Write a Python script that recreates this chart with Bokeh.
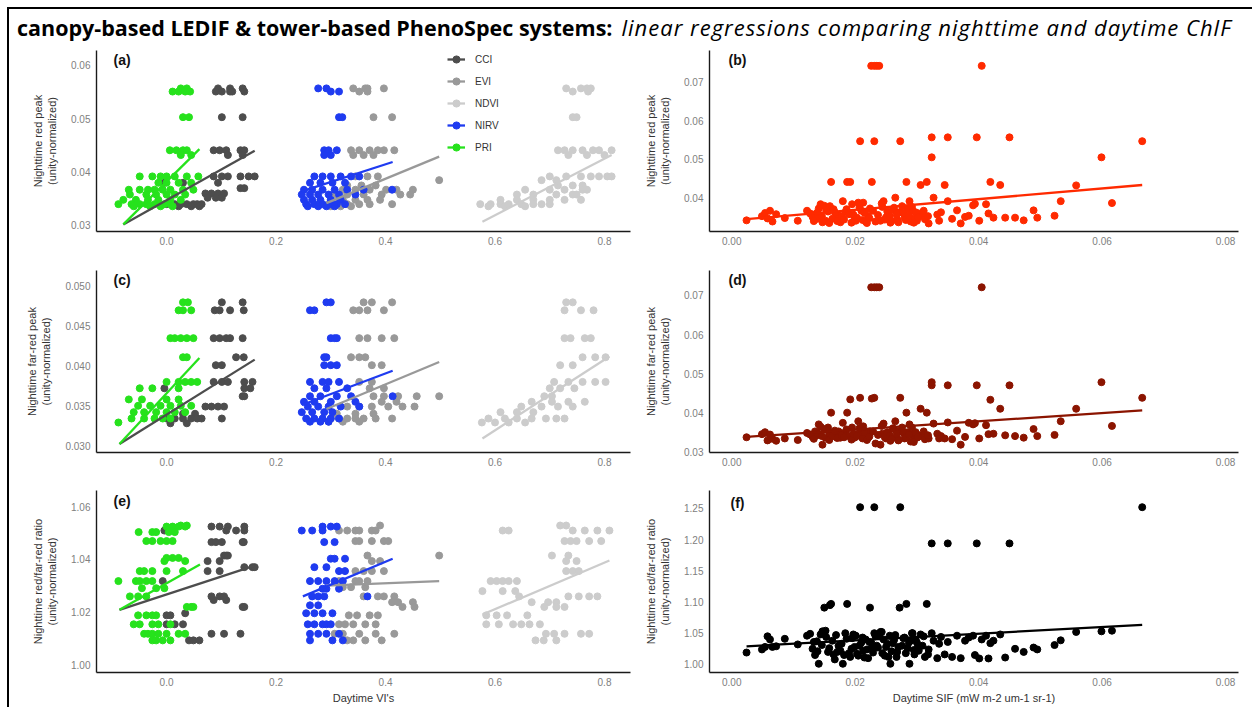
from bokeh.plotting import figure
from bokeh.layouts import column, row
from bokeh.models import Div, FixedTicker, Label, Legend, LegendItem, Range1d, PrintfTickFormatter
from bokeh.embed import file_html
from bokeh.resources import INLINE

# ---------------- data ----------------
vi_names = ["CCI", "EVI", "NDVI", "NIRV", "PRI"]
vi_colors = ["#4D4D4D", "#999999", "#CCCCCC", "#1F3BF0", "#26E21C"]

vi_xticks = [0.0, 0.2, 0.4, 0.6, 0.8]
sif_xticks = [0.0, 0.02, 0.04, 0.06, 0.08]
a_yticks = [0.03, 0.04, 0.05, 0.06]
b_yticks = [0.04, 0.05, 0.06, 0.07]
c_yticks = [0.030, 0.035, 0.040, 0.045, 0.050]
d_yticks = [0.03, 0.04, 0.05, 0.06, 0.07]
e_yticks = [1.00, 1.02, 1.04, 1.06]
f_yticks = [1.00, 1.05, 1.10, 1.15, 1.20, 1.25]

# panel (a): nighttime red peak vs daytime VI -- (night value, [VI values])
a_CCI = [(0.0557, [0.094, 0.116, 0.139]), (0.0551, [0.090, 0.101, 0.116, 0.120, 0.142]),
         (0.0503, [0.101, 0.139]), (0.0441, [0.086, 0.097, 0.109, 0.135, 0.142]),
         (0.0432, [0.112, 0.139]), (0.0392, [0.086, 0.101, 0.112, 0.135, 0.150, 0.161]),
         (0.0380, [-0.004, 0.030, 0.094]), (0.0370, [0.135, 0.142]),
         (0.0360, [0.071, 0.082, 0.094, 0.105]), (0.0352, [0.075, 0.090, 0.101]),
         (0.0340, [0.000, 0.015, 0.026, 0.037, 0.049, 0.056, 0.064]), (0.0336, [0.022, 0.045, 0.060])]
a_EVI = [(0.0557, [0.341, 0.363, 0.367, 0.397]), (0.0551, [0.352, 0.367]), (0.0503, [0.378, 0.412]),
         (0.0441, [0.337, 0.352, 0.371, 0.386, 0.397, 0.416]), (0.0432, [0.341, 0.360, 0.378]),
         (0.0392, [0.345, 0.367, 0.386]), (0.0385, [0.498]), (0.0375, [0.330, 0.356, 0.382]),
         (0.0367, [0.322, 0.345, 0.371, 0.401, 0.420, 0.450]),
         (0.0358, [0.307, 0.330, 0.360, 0.393, 0.427, 0.445]),
         (0.0348, [0.300, 0.322, 0.345, 0.367, 0.390]),
         (0.0340, [0.296, 0.311, 0.330, 0.352, 0.371, 0.412]), (0.0336, [0.300, 0.318, 0.337])]
a_NDVI = [(0.0557, [0.730, 0.757, 0.768, 0.775]), (0.0551, [0.742, 0.770]), (0.0503, [0.742, 0.749]),
          (0.0441, [0.715, 0.727, 0.742, 0.760, 0.779, 0.790, 0.813]), (0.0432, [0.734, 0.768, 0.800]),
          (0.0392, [0.700, 0.730, 0.757, 0.775, 0.790, 0.805, 0.813]), (0.0385, [0.685, 0.712]),
          (0.0375, [0.715, 0.742, 0.760]), (0.0367, [0.655, 0.700, 0.727, 0.760, 0.768]),
          (0.0358, [0.640, 0.670, 0.712, 0.742, 0.749]),
          (0.0348, [0.610, 0.640, 0.670, 0.700, 0.727, 0.757]),
          (0.0340, [0.573, 0.592, 0.610, 0.625, 0.648, 0.670, 0.685, 0.700]),
          (0.0336, [0.588, 0.618, 0.655])]
a_NIRV = [(0.0557, [0.277, 0.292]), (0.0551, [0.300, 0.315]), (0.0503, [0.315, 0.321]),
          (0.0441, [0.288, 0.296, 0.311]), (0.0432, [0.288, 0.300]),
          (0.0392, [0.270, 0.285, 0.300, 0.318, 0.337, 0.352]), (0.0380, [0.262, 0.281, 0.303, 0.326]),
          (0.0367, [0.251, 0.266, 0.285, 0.307, 0.330, 0.360, 0.412]),
          (0.0358, [0.247, 0.262, 0.277, 0.296, 0.315, 0.345]),
          (0.0348, [0.251, 0.266, 0.281, 0.300, 0.318]),
          (0.0340, [0.255, 0.270, 0.285, 0.300, 0.311, 0.326]), (0.0336, [0.258, 0.277, 0.292, 0.307])]
a_PRI = [(0.0557, [0.026, 0.037]), (0.0551, [0.011, 0.022, 0.034, 0.043]), (0.0503, [0.030, 0.041]),
         (0.0441, [0.006, 0.018, 0.030, 0.037]), (0.0432, [0.026, 0.045]),
         (0.0392, [-0.049, -0.026, -0.011, 0.000, 0.015, 0.037, 0.058]),
         (0.0380, [-0.015, 0.000, 0.022, 0.045]),
         (0.0367, [-0.069, -0.049, -0.034, -0.022, -0.007, 0.007, 0.030, 0.049]),
         (0.0358, [-0.067, -0.037, -0.019, 0.000, 0.015, 0.034]),
         (0.0348, [-0.079, -0.056, -0.034, -0.015, 0.007, 0.026]),
         (0.0340, [-0.088, -0.064, -0.049, -0.037, -0.022, -0.004, 0.007]),
         (0.0336, [-0.060, -0.030, -0.011, 0.011])]
# regression lines: x0, x1, y0, y1
a_fit = [[-0.079, 0.161, 0.0302, 0.0440], [0.292, 0.498, 0.0342, 0.0429], [0.577, 0.813, 0.0307, 0.0432],
         [0.247, 0.413, 0.0364, 0.0419], [-0.079, 0.060, 0.0302, 0.0443]]

# panel (c): nighttime far-red peak vs daytime VI
c_CCI = [(0.0480, [0.101, 0.139]), (0.0470, [0.088, 0.097, 0.116, 0.141]),
         (0.0435, [0.086, 0.097, 0.109, 0.116, 0.139]), (0.0411, [0.127, 0.141]), (0.0401, [0.090, 0.101]),
         (0.0380, [0.086, 0.101, 0.112, 0.142, 0.157]), (0.0372, [-0.004, 0.142, 0.153]),
         (0.0362, [0.139, 0.142]), (0.0349, [0.071, 0.082, 0.094, 0.105]), (0.0340, [0.030, 0.052]),
         (0.0334, [0.000, 0.015, 0.030, 0.045, 0.056, 0.064, 0.101]), (0.0328, [0.007, 0.037])]
c_EVI = [(0.0480, [0.360, 0.375, 0.412]), (0.0470, [0.341, 0.352, 0.367, 0.397]),
         (0.0435, [0.352, 0.367, 0.393, 0.416]), (0.0411, [0.337, 0.352, 0.363]), (0.0401, [0.375, 0.393]),
         (0.0380, [0.352, 0.375]), (0.0372, [0.371, 0.397]), (0.0362, [0.378, 0.397, 0.423, 0.457, 0.498]),
         (0.0355, [0.393, 0.420]), (0.0349, [0.330, 0.352, 0.375, 0.405, 0.431, 0.453]),
         (0.0340, [0.311, 0.345, 0.378]), (0.0334, [0.300, 0.315, 0.330, 0.345, 0.360, 0.382, 0.412]),
         (0.0330, [0.296, 0.322, 0.352])]
c_NDVI = [(0.0480, [0.730, 0.742]), (0.0470, [0.727, 0.757, 0.780]), (0.0435, [0.727, 0.738, 0.764, 0.775]),
          (0.0411, [0.760, 0.783, 0.802]), (0.0401, [0.719, 0.742]),
          (0.0380, [0.708, 0.734, 0.760, 0.783, 0.802]), (0.0372, [0.700, 0.719, 0.745]),
          (0.0362, [0.690, 0.704]), (0.0355, [0.667, 0.704, 0.734, 0.764]),
          (0.0349, [0.648, 0.685, 0.715, 0.742]), (0.0342, [0.610, 0.640, 0.670]),
          (0.0334, [0.588, 0.618, 0.640, 0.667, 0.693, 0.712, 0.727]), (0.0329, [0.576, 0.600, 0.625, 0.655])]
c_NIRV = [(0.0480, [0.292, 0.300]), (0.0470, [0.262, 0.270]), (0.0435, [0.300, 0.307, 0.311]),
          (0.0411, [0.288, 0.292]), (0.0401, [0.288, 0.300, 0.311]), (0.0380, [0.262, 0.285, 0.296, 0.315]),
          (0.0372, [0.270, 0.292, 0.330]), (0.0362, [0.262, 0.281, 0.311, 0.337, 0.413]),
          (0.0355, [0.251, 0.270, 0.300, 0.345]), (0.0349, [0.258, 0.277, 0.296, 0.318, 0.352]),
          (0.0342, [0.247, 0.266, 0.288, 0.303]), (0.0334, [0.255, 0.270, 0.285, 0.300, 0.315]),
          (0.0330, [0.262, 0.281, 0.296])]
c_PRI = [(0.0480, [0.030, 0.039]), (0.0470, [0.022, 0.030, 0.045]),
         (0.0435, [0.007, 0.015, 0.026, 0.037, 0.049]), (0.0411, [0.030, 0.037]),
         (0.0380, [0.000, 0.022, 0.034, 0.045, 0.056]), (0.0372, [-0.049, -0.026, 0.022]),
         (0.0358, [-0.069, -0.045, 0.000, 0.022]), (0.0350, [-0.052, -0.030, -0.011, 0.007, 0.026, 0.045]),
         (0.0342, [-0.060, -0.041, -0.019, 0.000, 0.015, 0.034]),
         (0.0334, [-0.064, -0.041, -0.022, -0.007, 0.007]), (0.0329, [-0.088])]
c_fit = [[-0.086, 0.161, 0.0302, 0.0408], [0.292, 0.498, 0.0346, 0.0405], [0.577, 0.809, 0.0309, 0.0412],
         [0.247, 0.413, 0.0351, 0.0394], [-0.086, 0.060, 0.0302, 0.0410]]

# panel (e): nighttime red/far-red ratio vs daytime VI
e_CCI = [(1.0524, [0.082, 0.097, 0.112, 0.142]), (1.0509, [-0.004, 0.109, 0.127, 0.142]),
         (1.0465, [0.082, 0.090, 0.101, 0.139, 0.141]), (1.0414, [0.105, 0.109, 0.112]),
         (1.0393, [0.075, 0.097]), (1.0370, [0.142, 0.157, 0.161]), (1.0355, [0.075, 0.097]),
         (1.0317, [-0.007]), (1.0259, [0.082, 0.097, 0.105]), (1.0245, [0.086, 0.109]),
         (1.0219, [0.139, 0.142]), (1.0195, [0.034]), (1.0187, [0.000, 0.007]),
         (1.0153, [0.000, 0.015, 0.030]), (1.0117, [0.082, 0.105, 0.135]), (1.0092, [0.041, 0.049, 0.060])]
e_EVI = [(1.0528, [0.390]), (1.0509, [0.315, 0.330, 0.345, 0.352, 0.375, 0.382]),
         (1.0469, [0.345, 0.352, 0.375, 0.397, 0.405]), (1.0414, [0.367, 0.498]), (1.0393, [0.375, 0.390]),
         (1.0355, [0.345, 0.360, 0.375, 0.397]), (1.0317, [0.315, 0.345, 0.352, 0.367]),
         (1.0294, [0.322, 0.337, 0.363]), (1.0259, [0.360, 0.386, 0.397, 0.416]),
         (1.0237, [0.412, 0.423, 0.450]), (1.0219, [0.431, 0.453]), (1.0187, [0.333, 0.348, 0.371, 0.386]),
         (1.0153, [0.315, 0.326, 0.341, 0.363, 0.382]), (1.0117, [0.307, 0.322, 0.352, 0.382, 0.416]),
         (1.0092, [0.330, 0.341, 0.363, 0.393])]
e_NDVI = [(1.0528, [0.719, 0.730]), (1.0509, [0.614, 0.625, 0.742, 0.764, 0.787, 0.809]),
          (1.0469, [0.727, 0.738, 0.749, 0.772, 0.794]), (1.0414, [0.704, 0.734]), (1.0393, [0.730, 0.749]),
          (1.0355, [0.730, 0.742, 0.753]), (1.0317, [0.592, 0.603, 0.614, 0.625, 0.640]),
          (1.0279, [0.577, 0.614, 0.637]), (1.0259, [0.644, 0.734, 0.753, 0.772, 0.787]),
          (1.0237, [0.667, 0.697, 0.712]), (1.0219, [0.690, 0.712, 0.727]),
          (1.0187, [0.584, 0.603, 0.622, 0.659]), (1.0153, [0.584, 0.607, 0.633, 0.648, 0.663, 0.682]),
          (1.0117, [0.693, 0.708, 0.727, 0.757, 0.772]), (1.0092, [0.674, 0.689, 0.712])]
e_NIRV = [(1.0524, [0.285, 0.300, 0.311]), (1.0509, [0.247, 0.266, 0.285]), (1.0465, [0.288, 0.307]),
          (1.0402, [0.300, 0.307, 0.326]), (1.0370, [0.270, 0.292]), (1.0355, [0.315, 0.326]),
          (1.0317, [0.262, 0.277, 0.292, 0.307, 0.322]), (1.0288, [0.285, 0.292, 0.315]),
          (1.0259, [0.266, 0.277, 0.288, 0.367]), (1.0225, [0.262, 0.277]),
          (1.0195, [0.255, 0.270, 0.285, 0.303]), (1.0153, [0.258, 0.270, 0.285, 0.292, 0.300]),
          (1.0117, [0.262, 0.277, 0.292, 0.315]), (1.0092, [0.262, 0.303, 0.322])]
e_PRI = [(1.0528, [0.026, 0.037]), (1.0524, [0.000, 0.011, 0.022, 0.034]),
         (1.0503, [-0.051, -0.026, -0.019, 0.004, 0.015]), (1.0469, [-0.037, -0.026, -0.011, 0.000, 0.011]),
         (1.0405, [0.000, 0.011, 0.022]), (1.0393, [-0.004, 0.034]),
         (1.0355, [-0.049, -0.041, -0.026, 0.000, 0.030]), (1.0317, [-0.088, -0.056, -0.049, -0.037, -0.026]),
         (1.0290, [-0.045, -0.019, -0.004]), (1.0259, [-0.067, -0.052, -0.037]),
         (1.0219, [0.037, 0.045, 0.049]), (1.0187, [-0.052, -0.037, -0.026, -0.019]),
         (1.0153, [-0.060, -0.049, -0.026, -0.015, 0.007]),
         (1.0117, [-0.041, -0.034, -0.026, -0.015, 0.000, 0.022, 0.034]),
         (1.0092, [-0.026, -0.019, -0.007, 0.007])]
e_fit = [[-0.086, 0.161, 1.0208, 1.0376], [0.292, 0.498, 1.0300, 1.0317], [0.577, 0.809, 1.0190, 1.0395],
         [0.249, 0.413, 1.0259, 1.0402], [-0.086, 0.061, 1.0208, 1.0380]]

# panels (b, d, f): tower-based daytime SIF vs nighttime values (one entry per observation)
sif_day = [0.0024, 0.0049, 0.0054, 0.0058, 0.0062, 0.0066, 0.0072, 0.0086, 0.0107, 0.0122,
           0.0127, 0.0131, 0.0135, 0.0138, 0.0141, 0.0144, 0.0147, 0.0150, 0.0152, 0.0156,
           0.0159, 0.0161, 0.0165, 0.0169, 0.0173, 0.0176, 0.0180, 0.0184, 0.0187, 0.0190,
           0.0192, 0.0195, 0.0199, 0.0201, 0.0205, 0.0208, 0.0210, 0.0213, 0.0217, 0.0221,
           0.0224, 0.0226, 0.0227, 0.0231, 0.0231, 0.0235, 0.0239, 0.0241, 0.0244, 0.0246,
           0.0250, 0.0254, 0.0257, 0.0261, 0.0265, 0.0268, 0.0272, 0.0273, 0.0276, 0.0280,
           0.0283, 0.0285, 0.0288, 0.0290, 0.0293, 0.0296, 0.0300, 0.0303, 0.0306, 0.0309,
           0.0313, 0.0316, 0.0319, 0.0324, 0.0324, 0.0327, 0.0333, 0.0339, 0.0345, 0.0350,
           0.0350, 0.0357, 0.0365, 0.0371, 0.0378, 0.0384, 0.0391, 0.0394, 0.0397, 0.0401,
           0.0405, 0.0412, 0.0416, 0.0419, 0.0424, 0.0435, 0.0443, 0.0450, 0.0459, 0.0473,
           0.0489, 0.0495, 0.0523, 0.0533, 0.0558, 0.0599, 0.0616, 0.0665,
           0.0133, 0.0139, 0.0146, 0.0153, 0.0158, 0.0163, 0.0167, 0.0171, 0.0178, 0.0182,
           0.0186, 0.0194, 0.0197, 0.0203, 0.0207, 0.0212, 0.0215, 0.0219, 0.0223, 0.0229,
           0.0233, 0.0237, 0.0243, 0.0248, 0.0252, 0.0256, 0.0259, 0.0263, 0.0267, 0.0270,
           0.0278, 0.0282, 0.0287, 0.0292, 0.0295, 0.0298, 0.0302, 0.0311, 0.0318, 0.0336]
red_night = [0.0341, 0.0352, 0.0360, 0.0346, 0.0366, 0.0338, 0.0357, 0.0347, 0.0340, 0.0366,
             0.0359, 0.0350, 0.0357, 0.0345, 0.0372, 0.0383, 0.0336, 0.0379, 0.0340, 0.0364,
             0.0378, 0.0441, 0.0370, 0.0348, 0.0355, 0.0336, 0.0391, 0.0362, 0.0441, 0.0357,
             0.0441, 0.0383, 0.0344, 0.0340, 0.0387, 0.0547, 0.0366, 0.0387, 0.0338, 0.0353,
             0.0372, 0.0743, 0.0441, 0.0743, 0.0547, 0.0743, 0.0743, 0.0340, 0.0376, 0.0391,
             0.0349, 0.0357, 0.0335, 0.0368, 0.0400, 0.0344, 0.0362, 0.0547, 0.0378, 0.0348,
             0.0441, 0.0370, 0.0391, 0.0338, 0.0366, 0.0346, 0.0340, 0.0359, 0.0433, 0.0353,
             0.0344, 0.0441, 0.0333, 0.0557, 0.0505, 0.0400, 0.0356, 0.0362, 0.0433, 0.0557,
             0.0391, 0.0345, 0.0367, 0.0333, 0.0350, 0.0353, 0.0380, 0.0384, 0.0557, 0.0340,
             0.0743, 0.0383, 0.0359, 0.0441, 0.0348, 0.0433, 0.0348, 0.0557, 0.0348, 0.0341,
             0.0367, 0.0348, 0.0353, 0.0391, 0.0432, 0.0505, 0.0386, 0.0547,
             0.0339, 0.0362, 0.0352, 0.0368, 0.0334, 0.0345, 0.0362, 0.0339, 0.0350, 0.0343,
             0.0370, 0.0335, 0.0356, 0.0348, 0.0374, 0.0342, 0.0361, 0.0334, 0.0347, 0.0366,
             0.0338, 0.0355, 0.0385, 0.0343, 0.0364, 0.0351, 0.0339, 0.0374, 0.0357, 0.0336,
             0.0360, 0.0342, 0.0353, 0.0376, 0.0335, 0.0362, 0.0349, 0.0366, 0.0352, 0.0340]
fr_night = [0.0337, 0.0345, 0.0350, 0.0329, 0.0344, 0.0333, 0.0328, 0.0334, 0.0330, 0.0348,
            0.0344, 0.0338, 0.0352, 0.0342, 0.0370, 0.0364, 0.0318, 0.0358, 0.0336, 0.0362,
            0.0345, 0.0400, 0.0350, 0.0338, 0.0352, 0.0336, 0.0374, 0.0348, 0.0400, 0.0340,
            0.0434, 0.0362, 0.0336, 0.0344, 0.0378, 0.0438, 0.0350, 0.0365, 0.0338, 0.0336,
            0.0352, 0.0721, 0.0436, 0.0721, 0.0438, 0.0721, 0.0721, 0.0318, 0.0346, 0.0372,
            0.0334, 0.0348, 0.0328, 0.0360, 0.0378, 0.0336, 0.0352, 0.0438, 0.0362, 0.0334,
            0.0400, 0.0350, 0.0370, 0.0326, 0.0345, 0.0338, 0.0336, 0.0342, 0.0410, 0.0340,
            0.0332, 0.0400, 0.0334, 0.0470, 0.0478, 0.0372, 0.0346, 0.0340, 0.0334, 0.0470,
            0.0375, 0.0332, 0.0354, 0.0318, 0.0338, 0.0374, 0.0370, 0.0373, 0.0470, 0.0334,
            0.0721, 0.0368, 0.0345, 0.0433, 0.0346, 0.0410, 0.0342, 0.0470, 0.0340, 0.0336,
            0.0358, 0.0340, 0.0343, 0.0378, 0.0410, 0.0478, 0.0366, 0.0438,
            0.0333, 0.0347, 0.0340, 0.0356, 0.0330, 0.0341, 0.0354, 0.0335, 0.0342, 0.0337,
            0.0357, 0.0331, 0.0346, 0.0340, 0.0360, 0.0334, 0.0349, 0.0330, 0.0339, 0.0352,
            0.0321, 0.0343, 0.0366, 0.0337, 0.0350, 0.0341, 0.0333, 0.0358, 0.0346, 0.0329,
            0.0349, 0.0336, 0.0344, 0.0362, 0.0325, 0.0350, 0.0338, 0.0352, 0.0342, 0.0334]
ratio_night = [1.019, 1.024, 1.028, 1.045, 1.040, 1.028, 1.029, 1.041, 1.032, 1.046,
               1.049, 1.025, 1.015, 1.037, 1.001, 1.048, 1.053, 1.091, 1.054, 1.020,
               1.095, 1.097, 1.016, 1.047, 1.030, 1.022, 1.001, 1.050, 1.097, 1.018,
               1.012, 1.042, 1.028, 1.046, 1.014, 1.252, 1.035, 1.022, 1.040, 1.010,
               1.091, 1.035, 1.025, 1.050, 1.252, 1.030, 1.045, 1.052, 1.018, 1.040,
               1.028, 1.012, 1.001, 1.034, 1.047, 1.020, 1.091, 1.252, 1.030, 1.043,
               1.097, 1.026, 1.001, 1.038, 1.050, 1.016, 1.035, 1.022, 1.048, 1.030,
               1.012, 1.097, 1.024, 1.194, 1.050, 1.038, 1.010, 1.044, 1.016, 1.194,
               1.036, 1.012, 1.046, 1.010, 1.038, 1.043, 1.046, 1.015, 1.194, 1.0095,
               1.040, 1.046, 1.0095, 1.034, 1.038, 1.048, 1.011, 1.194, 1.025, 1.020,
               1.027, 1.024, 1.031, 1.0386, 1.052, 1.053, 1.054, 1.252,
               1.036, 1.021, 1.031, 1.044, 1.026, 1.038, 1.008, 1.020, 1.033, 1.015,
               1.041, 1.025, 1.048, 1.017, 1.030, 1.043, 1.011, 1.024, 1.036, 1.019,
               1.045, 1.027, 1.052, 1.014, 1.033, 1.046, 1.021, 1.039, 1.012, 1.028,
               1.042, 1.018, 1.035, 1.050, 1.023, 1.040, 1.029, 1.045, 1.016, 1.033]
b_fit = [0.0024, 0.0665, 0.0344, 0.0433]
d_fit = [0.0024, 0.0665, 0.0338, 0.0406]
f_fit = [0.0024, 0.0665, 1.0290, 1.0634]
sif_colors = ["#FF2A00", "#8B1400", "#000000"]

title_bold = "canopy-based LEDIF &amp; tower-based PhenoSpec systems:"
title_italic = "linear regressions comparing nighttime and daytime ChlF"

# ---------------- helpers ----------------
FONT = "Liberation Sans"


def flatten(groups):
    xs, ys = [], []
    for yv, xl in groups:
        for xv in xl:
            xs.append(xv)
            ys.append(yv)
    return xs, ys


def make_fig(width, height, mbl, mbr, mbt, mbb, xr, yr, xticks, xfmt, yticks, yfmt, ylabel, xlabel, tag, tag_dx, tag_dy):
    p = figure(width=width, height=height, x_range=Range1d(*xr), y_range=Range1d(*yr),
               output_backend="svg", toolbar_location=None,
               min_border_left=mbl, min_border_right=mbr, min_border_top=mbt, min_border_bottom=mbb,
               background_fill_color="white", border_fill_color="white")
    p.outline_line_color = None
    p.xgrid.visible = False
    p.ygrid.visible = False
    p.xaxis.ticker = FixedTicker(ticks=xticks)
    p.xaxis.formatter = PrintfTickFormatter(format=xfmt)
    p.yaxis.ticker = FixedTicker(ticks=yticks)
    p.yaxis.formatter = PrintfTickFormatter(format=yfmt)
    for ax in list(p.xaxis) + list(p.yaxis):
        ax.axis_line_color = "#1A1A1A"
        ax.axis_line_width = 1.4
        ax.major_tick_line_color = None
        ax.minor_tick_line_color = None
        ax.major_tick_out = 0
        ax.major_tick_in = 0
        ax.major_label_text_font = FONT
        ax.major_label_text_font_size = "10px"
        ax.major_label_text_color = "#808080"
        ax.axis_label_text_font = FONT
        ax.axis_label_text_font_size = "11px"
        ax.axis_label_text_color = "#333333"
        ax.axis_label_text_font_style = "normal"
    p.xaxis.major_label_standoff = 5
    p.yaxis.major_label_standoff = 6
    p.yaxis.axis_label = ylabel
    p.yaxis.axis_label_standoff = 10
    if xlabel:
        p.xaxis.axis_label = xlabel
        p.xaxis.axis_label_standoff = 3
    p.add_layout(Label(x=tag_dx, y=tag_dy, x_units="screen", y_units="screen", text=tag,
                       text_font=FONT, text_font_style="bold", text_font_size="14px",
                       text_baseline="middle", text_align="left", text_color="#111111"))
    return p


def vi_panel(p, groups, fits):
    sc, ln = [], []
    for name, col in zip(vi_names, vi_colors):
        xs, ys = flatten(groups[name])
        sc.append(p.scatter(xs, ys, size=7, fill_color=col, line_color=col))
    for (x0, x1, y0, y1), col in zip(fits, vi_colors):
        ln.append(p.line([x0, x1], [y0, y1], line_color=col, line_width=2.3))
    return sc, ln


def sif_panel(p, ys, fit, col):
    p.scatter(sif_day, ys, size=7, fill_color=col, line_color=col)
    p.line([fit[0], fit[1]], [fit[2], fit[3]], line_color=col, line_width=2.3)


VI_X = (-0.128, 0.8475)
SIF_X = (-0.0036, 0.0821)
YL_RED = "Nighttime red peak\n(unity-normalized)"
YL_FR = "Nighttime far-red peak\n(unity-normalized)"
YL_RAT = "Nighttime red/far-red ratio\n(unity-normalized)"

LW, RW = 631, 612

pa = make_fig(LW, 220, 87, 10, 5, 34, VI_X, (0.02887, 0.0628), vi_xticks, "%.1f", a_yticks, "%.2f",
              YL_RED, None, "(a)", 17, 172)
sc, ln = vi_panel(pa, {"CCI": a_CCI, "EVI": a_EVI, "NDVI": a_NDVI, "NIRV": a_NIRV, "PRI": a_PRI}, a_fit)
legend = Legend(items=[LegendItem(label=n, renderers=[l, s]) for n, l, s in zip(vi_names, ln, sc)],
                location=(351, 74), orientation="vertical", glyph_width=18, glyph_height=20,
                label_height=20, label_standoff=10, spacing=2, padding=0, margin=0,
                border_line_alpha=0, background_fill_alpha=0,
                label_text_font=FONT, label_text_font_size="10px", label_text_color="#333333")
pa.add_layout(legend)

pb = make_fig(RW, 220, 69, 14, 5, 34, SIF_X, (0.0312, 0.0783), sif_xticks, "%.2f", b_yticks, "%.2f",
              YL_RED, None, "(b)", 19, 172)
sif_panel(pb, red_night, b_fit, sif_colors[0])

pc = make_fig(LW, 220, 87, 10, 5, 33, VI_X, (0.02913, 0.0520), vi_xticks, "%.1f", c_yticks, "%.3f",
              YL_FR, None, "(c)", 17, 173)
vi_panel(pc, {"CCI": c_CCI, "EVI": c_EVI, "NDVI": c_NDVI, "NIRV": c_NIRV, "PRI": c_PRI}, c_fit)

pd_ = make_fig(RW, 220, 69, 14, 5, 33, SIF_X, (0.0298, 0.0764), sif_xticks, "%.2f", d_yticks, "%.2f",
               YL_FR, None, "(d)", 19, 173)
sif_panel(pd_, fr_night, d_fit, sif_colors[1])

pe = make_fig(LW, 222, 87, 10, 5, 35, VI_X, (0.997, 1.0661), vi_xticks, "%.1f", e_yticks, "%.2f",
              YL_RAT, "Daytime VI's", "(e)", 17, 172)
vi_panel(pe, {"CCI": e_CCI, "EVI": e_EVI, "NDVI": e_NDVI, "NIRV": e_NIRV, "PRI": e_PRI}, e_fit)

pf = make_fig(RW, 222, 69, 14, 5, 35, SIF_X, (0.987, 1.2788), sif_xticks, "%.2f", f_yticks, "%.2f",
              YL_RAT, "Daytime SIF (mW m-2 um-1 sr-1)", "(f)", 21, 170)
sif_panel(pf, ratio_night, f_fit, sif_colors[2])

title = Div(text=('<div style="font-family: \'Open Sans\', sans-serif; color: #000; '
                  'white-space: nowrap; padding-left: 8px; line-height: 36px;">'
                  '<span style="font-weight: 700; font-size: 21.5px;">' + title_bold + '</span>'
                  '<span style="font-style: italic; font-size: 22px; letter-spacing: 1px; margin-left: 9px;">'
                  + title_italic + '</span></div>'),
            width=1243, height=36, margin=0)

layout = column(title, row(pa, pb), row(pc, pd_), row(pe, pf),
                margin=(7, 0, 0, 7),
                styles={"border-left": "2px solid #000", "border-top": "2px solid #000"})

open("out.html", "w").write(file_html(layout, INLINE))
